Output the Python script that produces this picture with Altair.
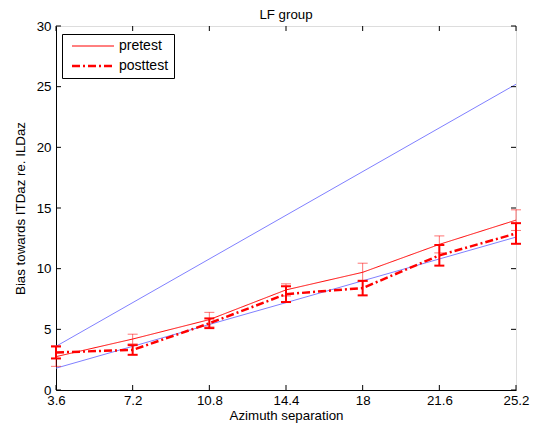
import altair as alt
import pandas as pd

# ---- data ----
x_vals = [3.6, 7.2, 10.8, 14.4, 18, 21.6, 25.2]
pre_vals = [2.75, 4.2, 5.8, 8.25, 9.7, 12.0, 14.0]
pre_err = [0.8, 0.4, 0.6, 0.5, 0.75, 0.7, 0.85]
post_vals = [3.1, 3.3, 5.5, 7.9, 8.4, 11.1, 12.9]
post_err = [0.5, 0.4, 0.4, 0.65, 0.6, 0.85, 0.85]

ref_x = [3.6, 25.2]
ref_upper = [3.6, 25.2]
ref_lower = [1.8, 12.6]

x_ticks = [3.6, 7.2, 10.8, 14.4, 18, 21.6, 25.2]
y_ticks = [0, 5, 10, 15, 20, 25, 30]

W, H = 460, 364
FONT = "Liberation Sans"
FS = 13.3

rows = []
for s, vals, errs in [("pretest", pre_vals, pre_err), ("posttest", post_vals, post_err)]:
    for xv, yv, e in zip(x_vals, vals, errs):
        rows.append({"series": s, "x": xv, "y": yv, "lo": yv - e, "hi": yv + e})
df = pd.DataFrame(rows)

ref_df = pd.DataFrame(
    [{"line": "upper", "x": a, "y": b} for a, b in zip(ref_x, ref_upper)]
    + [{"line": "lower", "x": a, "y": b} for a, b in zip(ref_x, ref_lower)]
)
xt_df = pd.DataFrame({"v": x_ticks})
yt_df = pd.DataFrame({"v": y_ticks})

xscale = alt.Scale(domain=[3.6, 25.2], nice=False, zero=False)
yscale = alt.Scale(domain=[0, 30], nice=False)

label_expr = "datum.value == 18 ? '18' : format(datum.value, '.1f')"
x_axis = alt.Axis(values=x_ticks, labelExpr=label_expr, ticks=False, grid=False,
                  title="Azimuth separation", labelPadding=3, titlePadding=2,
                  domainColor="black", labelFlush=False, titleFontWeight="normal",
                  titleFont=FONT, titleFontSize=FS, labelFont=FONT, labelFontSize=FS,
                  labelColor="black", titleColor="black")
y_axis = alt.Axis(values=y_ticks, ticks=False, grid=False,
                  title="Bias towards ITDaz re. ILDaz", labelPadding=5, titlePadding=9,
                  domainColor="black", titleFontWeight="normal", titleFont=FONT,
                  titleFontSize=FS, labelFont=FONT, labelFontSize=FS,
                  labelColor="black", titleColor="black")

X = alt.X("x:Q", scale=xscale, axis=x_axis)
Y = alt.Y("y:Q", scale=yscale, axis=y_axis)

ref = alt.Chart(ref_df).mark_line(color="#8080ff", strokeWidth=1).encode(
    x=X, y=Y, detail="line:N"
)

dom = ["pretest", "posttest"]
leg = alt.Legend(title=None, orient="none", legendX=6, legendY=8,
                 strokeColor="black", fillColor="white", padding=5,
                 symbolType="M-4.2,0H4.2", symbolSize=100, symbolOffset=19,
                 symbolStrokeColor="#ff0000", symbolFillColor="transparent",
                 labelFontSize=14, labelFont=FONT, labelOffset=19, rowPadding=6,
                 labelColor="black", labelExpr="datum.label + ' '")

lines = alt.Chart(df).mark_line().encode(
    x=X, y=Y,
    color=alt.Color("series:N", scale=alt.Scale(domain=dom, range=["#ff0000", "#ff0000"]), legend=leg),
    strokeDash=alt.StrokeDash("series:N", scale=alt.Scale(domain=dom, range=[[1, 0], [8, 3, 2, 3]]), legend=leg),
    strokeWidth=alt.StrokeWidth("series:N", scale=alt.Scale(domain=dom, range=[1, 2.5]), legend=leg),
    order=alt.Order("x:Q"),
)

pre_df = df[df.series == "pretest"]
post_df = df[df.series == "posttest"]

def errbars(d, color, width, opacity):
    base = alt.Chart(d)
    bar = base.mark_rule(color=color, strokeWidth=width, opacity=opacity).encode(
        x=alt.X("x:Q", scale=xscale), y=alt.Y("lo:Q", scale=yscale), y2="hi:Q")
    cap_lo = base.mark_tick(color=color, thickness=width, size=10, orient="horizontal", opacity=opacity).encode(
        x=alt.X("x:Q", scale=xscale), y=alt.Y("lo:Q", scale=yscale))
    cap_hi = base.mark_tick(color=color, thickness=width, size=10, orient="horizontal", opacity=opacity).encode(
        x=alt.X("x:Q", scale=xscale), y=alt.Y("hi:Q", scale=yscale))
    return bar + cap_lo + cap_hi

pre_eb = errbars(pre_df, "#ff0000", 1, 0.55)
post_eb = errbars(post_df, "#ff0000", 2, 1.0)

tl = 5
xt_bot = alt.Chart(xt_df).mark_rule(color="black").encode(
    x=alt.X("v:Q", scale=xscale), y=alt.value(H), y2=alt.value(H - tl))
xt_top = alt.Chart(xt_df).mark_rule(color="black").encode(
    x=alt.X("v:Q", scale=xscale), y=alt.value(0), y2=alt.value(tl))
yt_left = alt.Chart(yt_df).mark_rule(color="black").encode(
    y=alt.Y("v:Q", scale=yscale), x=alt.value(0), x2=alt.value(tl))
yt_right = alt.Chart(yt_df).mark_rule(color="black").encode(
    y=alt.Y("v:Q", scale=yscale), x=alt.value(W), x2=alt.value(W - tl))

chart = alt.layer(
    ref, lines, pre_eb, post_eb, xt_bot, xt_top, yt_left, yt_right
).properties(
    width=W, height=H,
    title=alt.Title("LF group", fontSize=FS, fontWeight="normal", font=FONT, color="black", offset=-2),
    autosize=alt.AutoSizeParams(type="none"),
    padding={"left": 48, "top": 18, "right": 15, "bottom": 34},
).configure_view(
    stroke="black", strokeWidth=1
).configure_axis(
    labelFont=FONT, titleFont=FONT, labelFontSize=FS, titleFontSize=FS,
    labelColor="black", titleColor="black", titleFontWeight="normal"
).configure(background="white")

chart.save("out.html", embed_options={"renderer": "svg", "actions": False})
